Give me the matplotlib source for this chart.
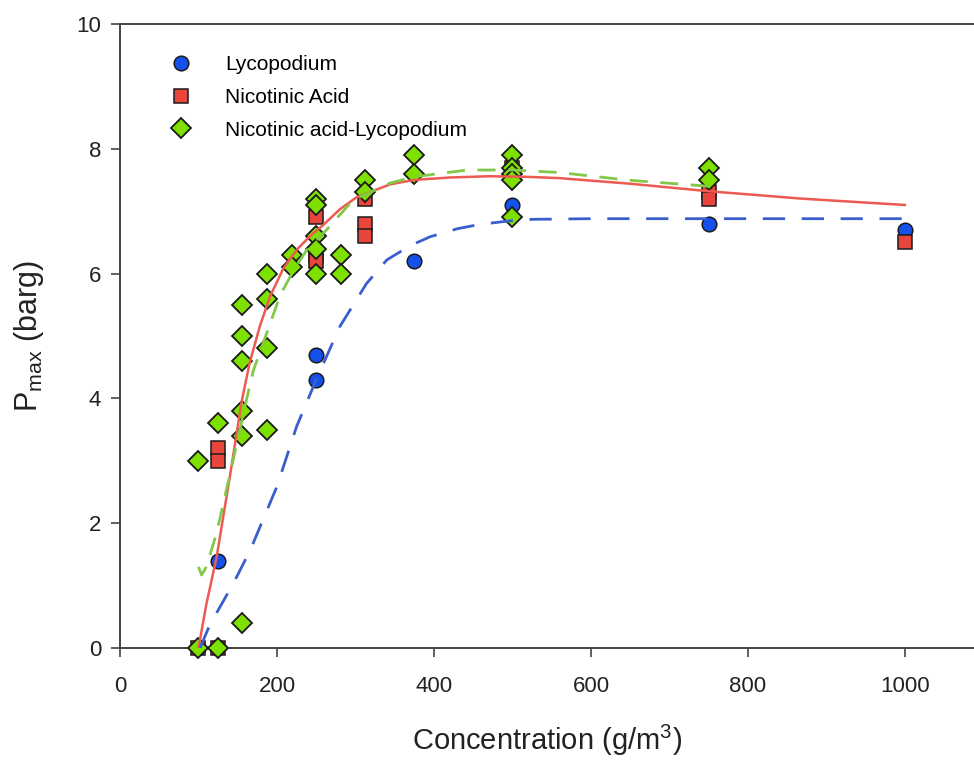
import matplotlib
matplotlib.use("Agg")
import matplotlib.pyplot as plt

plt.rcParams['font.family'] = ['Liberation Sans', 'DejaVu Sans']
plt.rcParams['mathtext.default'] = 'regular'

# measured Pmax values (barg) vs dust concentration (g/m3)
lyco_x = [100, 125, 250, 250, 375, 500, 750, 1000]
lyco_y = [0.0, 1.4, 4.7, 4.3, 6.2, 7.1, 6.8, 6.7]

nico_x = [100, 125, 125, 125, 250, 250, 250, 312, 312, 312, 500, 500, 750, 750, 1000]
nico_y = [0.0, 0.0, 3.2, 3.0, 6.9, 6.3, 6.2, 7.2, 6.8, 6.6, 7.7, 7.6, 7.3, 7.2, 6.5]

mix_x = [100, 100, 125, 125, 156, 156, 156, 156, 156, 156, 187, 187, 187, 187,
         219, 219, 250, 250, 250, 250, 250, 281, 281, 312, 312, 375, 375,
         500, 500, 500, 500, 500, 750, 750]
mix_y = [3.0, 0.0, 3.6, 0.0, 5.5, 5.0, 4.6, 3.8, 3.4, 0.4, 6.0, 5.6, 4.8, 3.5,
         6.3, 6.1, 7.2, 7.1, 6.6, 6.4, 6.0, 6.3, 6.0, 7.5, 7.3, 7.9, 7.6,
         7.9, 7.7, 7.6, 7.5, 6.9, 7.7, 7.5]

# fitted trend lines
fit_lyco_x = [102, 112, 123, 145, 166, 200, 225, 250, 280, 314, 340, 370, 395,
              430, 459, 500, 526, 600, 750, 1000]
fit_lyco_y = [0.0, 0.3, 0.56, 1.05, 1.57, 2.59, 3.55, 4.3, 5.15, 5.84, 6.22,
              6.45, 6.59, 6.72, 6.79, 6.85, 6.87, 6.88, 6.88, 6.88]

fit_nico_x = [100, 110, 123, 140, 155, 165, 178, 191, 208, 225, 242, 259, 280,
              301, 344, 374, 420, 470, 520, 560, 650, 750, 870, 1000]
fit_nico_y = [0.0, 0.7, 1.45, 2.75, 3.95, 4.56, 5.15, 5.63, 6.08, 6.38, 6.6,
              6.78, 7.03, 7.22, 7.43, 7.5, 7.54, 7.56, 7.55, 7.53, 7.44, 7.32,
              7.2, 7.1]

fit_mix_x = [100, 104, 110, 123, 144, 161, 170, 187, 204, 221, 238, 263, 297,
             344, 374, 442, 501, 560, 645, 750]
fit_mix_y = [1.3, 1.17, 1.3, 1.84, 3.0, 3.97, 4.45, 5.05, 5.65, 6.05, 6.38,
             6.7, 7.18, 7.45, 7.55, 7.66, 7.66, 7.62, 7.5, 7.4]

fig = plt.figure(figsize=(9.74, 7.61), dpi=100)
ax = fig.add_axes([120 / 974, 113 / 761, 854 / 974, 624 / 761])

edge = '#1a1a1a'
ax.plot(lyco_x, lyco_y, 'o', ms=10.5, mfc='#1450ea', mec=edge, mew=1.1,
        ls='none', label='Lycopodium', clip_on=False, zorder=3)
ax.plot(nico_x, nico_y, 's', ms=10, mfc='#e8453c', mec=edge, mew=1.1,
        ls='none', label='Nicotinic Acid', clip_on=False, zorder=4)
ax.plot(mix_x, mix_y, 'D', ms=10, mfc='#7ee000', mec=edge, mew=1.3,
        ls='none', label='Nicotinic acid-Lycopodium', clip_on=False, zorder=5)

ax.plot(fit_nico_x, fit_nico_y, '-', color='#ec5a52', lw=1.8, zorder=6)
ax.plot(fit_mix_x, fit_mix_y, color='#84c84a', lw=2.0, dashes=(6.5, 4.5), zorder=6)
ax.plot(fit_lyco_x, fit_lyco_y, color='#3a5fcd', lw=2.0, dashes=(8, 6), zorder=6)

ax.set_xlim(0, 1088)
ax.set_ylim(0, 10)
ax.set_xticks([0, 200, 400, 600, 800, 1000])
ax.set_yticks([0, 2, 4, 6, 8, 10])

for side in ['left', 'bottom', 'top']:
    ax.spines[side].set_color('#444444')
    ax.spines[side].set_linewidth(1.4)
ax.spines['right'].set_visible(False)

ax.tick_params(axis='both', direction='out', length=6.5, width=1.2,
               color='#444444', labelsize=16, labelcolor='#222222')
ax.tick_params(axis='x', pad=14)
ax.tick_params(axis='y', pad=7)

ax.set_xlabel('Concentration (g/m$^3$)', fontsize=21, color='#222222', labelpad=18)
ax.set_ylabel('P$_{max}$ (barg)', fontsize=22, color='#222222', labelpad=22)

ax.legend(loc='upper left', bbox_to_anchor=(0.05, 0.963), frameon=False,
          fontsize=15, numpoints=1, handlelength=1.0, handletextpad=1.6,
          labelspacing=0.65, borderaxespad=0.0)

fig.savefig('out.png', dpi=100)
